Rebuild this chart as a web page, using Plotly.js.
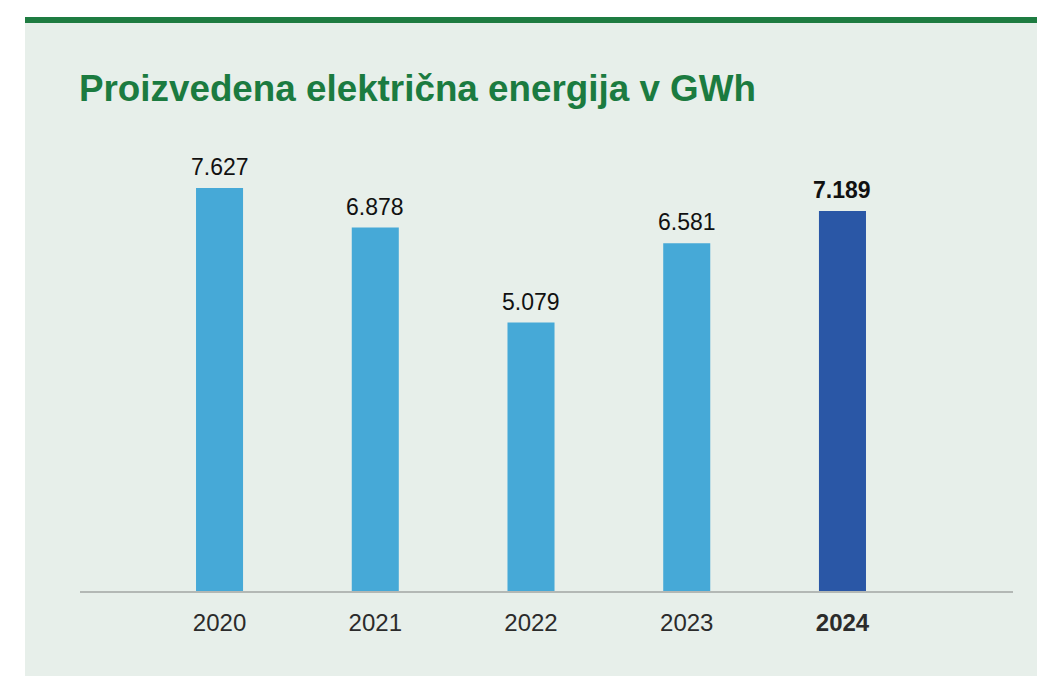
<!DOCTYPE html>
<html>
<head>
<meta charset="utf-8">
<script src="https://cdn.plot.ly/plotly-3.0.1.min.js"></script>
<style>
html,body{margin:0;padding:0;background:#ffffff;}
#chart{width:1037px;height:676px;}
</style>
</head>
<body>
<div id="chart"></div>
<script>
// Data
const years = ["2020", "2021", "2022", "2023", "2024"];
const tickLabels = ["2020", "2021", "2022", "2023", "<b>2024</b>"];
const productionGWh = [7627, 6878, 5079, 6581, 7189];
const valueLabels = ["7.627", "6.878", "5.079", "6.581", "<b>7.189</b>"];
const barColors = ["#46a9d7", "#46a9d7", "#46a9d7", "#46a9d7", "#2a57a6"];

const W = 1037, H = 676;
const L = 80, R = 24, T = 140, B = 85;
const pw = W - L - R, ph = H - T - B;
const px2x = px => (px - L) / pw;
const py2y = py => (H - B - py) / ph;

const trace = {
  type: "bar",
  x: years,
  y: productionGWh,
  marker: { color: barColors, line: { width: 0 } },
  width: 0.302,
  hoverinfo: "x+y"
};

// category axis: annotation x given as the category's serial index
const annotations = years.map((yr, i) => ({
  x: i, y: productionGWh[i],
  xref: "x", yref: "y",
  text: valueLabels[i],
  showarrow: false,
  xanchor: "center", yanchor: "bottom",
  yshift: 6,
  font: { family: "Liberation Sans, Arial, sans-serif", size: 23, color: "#111111" }
}));

const layout = {
  width: W, height: H,
  margin: { l: L, r: R, t: T, b: B, pad: 0 },
  paper_bgcolor: "#ffffff",
  plot_bgcolor: "rgba(0,0,0,0)",
  showlegend: false,
  title: {
    text: "<b>Proizvedena električna energija v GWh</b>",
    font: { family: "Liberation Sans, Arial, sans-serif", size: 36.8, color: "#1b7b40" },
    xref: "container", yref: "container",
    x: 79 / W, xanchor: "left",
    y: 1 - 88 / H, yanchor: "middle"
  },
  xaxis: {
    type: "category",
    range: [-0.896, 5.095],
    tickmode: "array",
    tickvals: years,
    ticktext: tickLabels,
    ticks: "",
    showgrid: false,
    zeroline: false,
    showline: true,
    linecolor: "#b3b8b5",
    linewidth: 2,
    ticklabelstandoff: 9,
    tickfont: { family: "Liberation Sans, Arial, sans-serif", size: 24, color: "#2b2b2b" },
    fixedrange: true
  },
  yaxis: {
    range: [0, 8535],
    showticklabels: false,
    ticks: "",
    showline: false,
    showgrid: false,
    zeroline: false,
    fixedrange: true
  },
  annotations: annotations,
  shapes: [
    { type: "rect", layer: "below", xref: "paper", yref: "paper",
      x0: px2x(25), x1: px2x(W + 2), y0: py2y(H + 2), y1: py2y(20),
      fillcolor: "#e7efea", line: { width: 0 } },
    { type: "rect", layer: "below", xref: "paper", yref: "paper",
      x0: px2x(25), x1: px2x(W + 2), y0: py2y(23), y1: py2y(17),
      fillcolor: "#1e7c41", line: { width: 0 } }
  ],
  bargap: 0.7
};

Plotly.newPlot("chart", [trace], layout, { displayModeBar: false, staticPlot: true });
</script>
</body>
</html>
